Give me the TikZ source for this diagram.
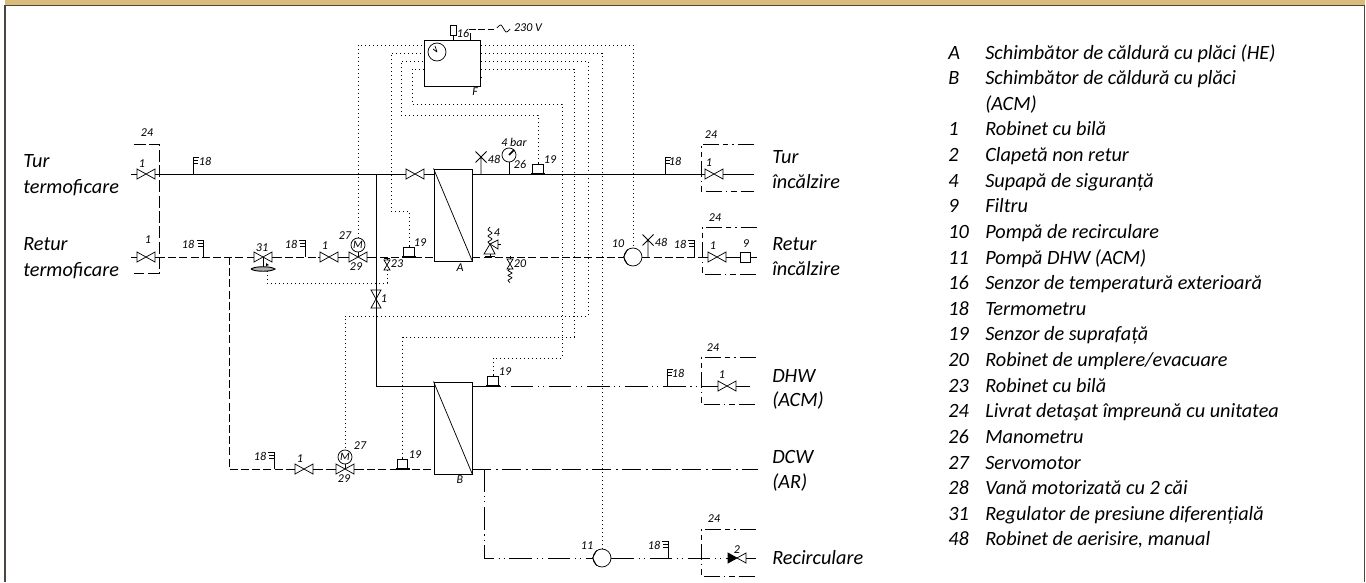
\documentclass[tikz,border=0pt]{standalone}
\usepackage{fontspec}
\setmainfont{Carlito}
\usepackage{xcolor}
\usepackage{tikz}
\definecolor{bandtan}{HTML}{D9BB7A}
\definecolor{framedark}{HTML}{4A463C}

\begin{document}
\begin{tikzpicture}[
    x=0.75pt, y=-0.75pt,
    sym/.style={draw, line width=0.55pt, fill=white},
    lin/.style={draw, line width=0.55pt},
    tag/.style={font=\fontsize{9}{10}\selectfont\itshape, inner sep=0pt},
    big/.style={font=\fontsize{15.2}{17}\selectfont\itshape, inner sep=0pt, anchor=base west},
    hexbox/.style={rectangle, draw, line width=0.7pt, fill=white, minimum width=28.5pt, minimum height=69pt},
    ctrlbox/.style={rectangle, draw, line width=0.7pt, fill=white, minimum width=42pt, minimum height=34.5pt},
    pumpsym/.style={circle, sym, minimum size=13.5pt, inner sep=0pt},
    motorsym/.style={circle, sym, minimum size=10.5pt, inner sep=0pt, font=\fontsize{8.5}{9}\selectfont\itshape},
    supply/.style={line width=0.65pt},
    retur/.style={line width=0.65pt, dash pattern=on 6pt off 2.4pt},
    hotline/.style={line width=0.65pt, dash pattern=on 17pt off 3.5pt on 0.8pt off 3pt on 0.8pt off 3.5pt},
    coldline/.style={line width=0.65pt, dash pattern=on 14pt off 3.5pt on 1.5pt off 3.5pt},
    wire/.style={line width=0.6pt, dash pattern=on 0.8pt off 2.2pt},
    kitdash/.style={line width=0.65pt, dash pattern=on 9pt off 2.5pt},
    kitdot/.style={line width=0.65pt, dash pattern=on 12pt off 3pt on 1.2pt off 3pt on 4pt off 3pt},
    valvesym/.pic={
      \path[sym] (-9,-5) -- (9,5) -- (9,-5) -- (-9,5) -- cycle;
      \draw[lin] (-11,0) -- (-9,0) (9,0) -- (11,0);
      \coordinate (-w) at (-11,0);
      \coordinate (-e) at (11,0);
      \coordinate (-c) at (0,0);
    },
    smallvalve/.pic={
      \path[sym] (-3,-5) -- (3,5) -- (-3,5) -- (3,-5) -- cycle;
      \draw[lin] (-3,-6.5) -- (3,-6.5) (0,-8) -- (0,-5);
      \coordinate (-s) at (0,5);
    },
    checksym/.pic={
      \path[sym, fill=black] (-9,-5) -- (0,0) -- (-9,5) -- cycle;
      \path[sym] (0,0) -- (9,-5) -- (9,5) -- cycle;
      \coordinate (-w) at (-9,0);
      \coordinate (-e) at (11,0);
      \draw[lin] (9,0) -- (11,0);
    },
    thermosym/.pic={
      \draw[lin] (0,0) -- (0,-17) -- (-6,-17) (0,-14) -- (-5,-14) (0,-11) -- (-5,-11);
    },
    ventsym/.pic={
      \draw[lin] (0,0) -- (0,-17) (-5.5,-22.5) -- (5.5,-11.5) (-5.5,-11.5) -- (5.5,-22.5);
    },
    sensorsym/.pic={
      \path[sym] (-5.25,0) -- (-5.25,-9.5) -- (5.25,-9.5) -- (5.25,0);
      \draw[line width=0.9pt] (-7,0) -- (7,0);
      \draw[lin] (0,-9.5) -- (0,-11);
      \coordinate (-top) at (0,-11);
    },
    springsym/.pic={
      \draw[lin] plot[smooth] coordinates {(0,0) (-2,-2) (2,-5) (-2,-8) (2,-11) (-2,-14) (0,-17)};
    }
]
  \useasboundingbox (0,0) rectangle (1366,582);

  % Frame
  \fill[bandtan] (5,0) rectangle (1364.5,5);
  \draw[framedark, line width=1pt] (5,582) -- (5,5.5) -- (1364.5,5.5) -- (1364.5,582);

  % Heat exchangers and controller
  \node[hexbox] (hxa) at (453,215) {};
  \node[hexbox] (hxb) at (453,428) {};
  \node[ctrlbox] (ctrl) at (452,63) {};
  \draw[lin] (hxa.north west) -- (hxa.south east);
  \draw[lin] (hxb.north west) -- (hxb.south east);
  \node[circle, sym, minimum size=13.5pt, inner sep=0pt] (clockf) at (437,52) {};
  \draw[lin] (clockf.center) -- (435,46) (clockf.center) -- (433,49);
  \foreach \n/\y in {1/45,2/53,3/61,4/69} {
    \coordinate (cl\n) at (424,\y);
    \coordinate (cr\n) at (481,\y);
  }
  \foreach \y in {53,61,69,77} \draw[lin] (480,\y) -- (482,\y);

  % Junctions and free ends
  \coordinate (turin) at (131,174);
  \coordinate (returin) at (131,257);
  \coordinate (teesup) at (376,174);
  \coordinate (teeret) at (229,257);
  \coordinate (turout) at (754,174);
  \coordinate (retout) at (757,257);
  \coordinate (dhwout) at (750,386);
  \coordinate (dcwout) at (758,469);
  \coordinate (dcwtee) at (484,469);
  \coordinate (recout) at (756,558);

  % Valves
  \pic (vturin) at (146,174) {valvesym};
  \pic (vretin) at (146,257) {valvesym};
  \pic (vreg) at (263,257) {valvesym};
  \pic (vball) at (329,257) {valvesym};
  \pic (vmota) at (358,257) {valvesym};
  \pic (vhx) at (415,174) {valvesym};
  \pic[rotate=90] (vbranch) at (376,299) {valvesym};
  \pic (vturout) at (714,174) {valvesym};
  \pic (vretout) at (717,257) {valvesym};
  \pic (vdhw) at (727,386) {valvesym};
  \pic (vlow) at (304,469) {valvesym};
  \pic (vmotb) at (345,469) {valvesym};
  \pic (vcheck) at (737,558) {checksym};
  \pic (vdrain) at (387,265) {smallvalve};
  \pic (vfill) at (510,264) {smallvalve};
  \pic[yscale=-0.8] at (510,269) {springsym};

  % Pumps, motors, filter, sensors
  \node[pumpsym] (pumpten) at (633,257) {};
  \node[pumpsym] (pumpele) at (602,558) {};
  \foreach \p in {pumpten,pumpele} \draw[lin] (\p.125) -- (\p.west) -- (\p.235);
  \node[motorsym] (motora) at (358,245) {M};
  \node[motorsym] (motorb) at (345,457) {M};
  \draw[lin] (motora) -- (vmota-c);
  \draw[lin] (motorb) -- (vmotb-c);
  \node[rectangle, sym, minimum size=7.5pt, inner sep=0pt] (filt) at (745,257) {};
  \pic (sena) at (409,257) {sensorsym};
  \pic (sent) at (538,174) {sensorsym};
  \pic (senb) at (493,386) {sensorsym};
  \pic (senc) at (402.5,469) {sensorsym};
  \node[rectangle, sym, minimum width=4.5pt, minimum height=7.5pt, inner sep=0pt] (outdoor) at (453,30) {};
  \draw[lin] (outdoor) -- (outdoor |- ctrl.north);

  % Thermometers
  \pic[xscale=-1] at (193,174) {thermosym};
  \pic at (203,257) {thermosym};
  \pic at (305,257) {thermosym};
  \pic[xscale=-1] at (665,174) {thermosym};
  \pic at (694,257) {thermosym};
  \pic[xscale=-1] at (667,386) {thermosym};
  \pic at (274,469) {thermosym};
  \pic at (668,558) {thermosym};

  % Vents, gauge, safety valve
  \pic at (481,174) {ventsym};
  \pic at (648,257) {ventsym};
  \coordinate (gaugetee) at (509,174);
  \node[circle, sym, minimum size=10.5pt, inner sep=0pt] (gauge) at (509,155) {};
  \draw[lin] (gauge) -- (gaugetee);
  \draw[line width=1.2pt] (gauge.center) -- (gauge.45);
  \path[sym] (490,244) -- (484,254) -- (495,254) -- cycle;
  \path[sym] (490,244) -- (498,240) -- (498,249) -- cycle;
  \draw[lin] (490,254) -- (490,257) (485,256) -- (495,256) (498,244.5) -- (501,244.5);
  \pic at (490,244) {springsym};

  % Differential regulator
  \draw[lin] (vreg-c) -- (263,269);
  \draw[line width=0.7pt, fill=gray!60] (251,269) .. controls (255,266) and (271,266) .. (275,269) .. controls (271,272) and (255,272) .. (251,269);
  \fill (266,263) -- (269,265) -- (266,266) -- cycle;
  \coordinate (regtap) at (267,271);

  % Supply pipe
  \draw[supply] (turin) -- (vturin-w);
  \draw[supply] (vturin-e) -- (vhx-w);
  \draw[supply] (vhx-e) -- (vhx-e -| hxa.west);
  \draw[supply] (hxa.east |- vhx-e) -- (vturout-w);
  \draw[supply] (vturout-e) -- (turout);
  \draw[supply] (teesup) -- (vbranch-w);
  \draw[supply] (vbranch-e) |- (hxb.west |- dhwout);

  % Return pipe
  \draw[retur] (returin) -- (vretin-w);
  \draw[retur] (vretin-e) -- (vreg-w);
  \draw[retur] (vreg-e) -- (vball-w);
  \draw[retur] (vball-e) -- (vmota-w);
  \draw[retur] (vmota-e) -- (vmota-e -| hxa.west);
  \draw[retur] (hxa.east |- vmota-e) -- (pumpten.west);
  \draw[retur] (pumpten.east) -- (vretout-w);
  \draw[supply] (vretout-e) -- (filt.west);
  \draw[supply] (filt.east) -- (retout);
  \draw[retur] (teeret) |- (vlow-w);
  \draw[retur] (vlow-e) -- (vmotb-w);
  \draw[retur] (vmotb-e) -- (vmotb-e -| hxb.west);

  % Hot and cold water
  \draw[hotline] (hxb.east |- dhwout) -- (vdhw-w);
  \draw[supply] (vdhw-e) -- (dhwout);
  \draw[coldline] (hxb.east |- dcwout) -- (dcwout);
  \draw[hotline] (dcwtee) |- (pumpele.west);
  \draw[hotline] (pumpele.east) -- (vcheck-w);
  \draw[supply] (vcheck-e) -- (recout);

  % Control wiring
  \draw[wire] (motora.north) |- (cl1);
  \draw[wire] (sena-top) |- (391,211) |- (cl2);
  \draw[wire] (sent-top) |- (401,115) |- (cl3);
  \draw[wire] (senb-top) |- (562,358) |- (412,104) |- (cl4);
  \draw[wire] (cr1) -| (pumpten.north);
  \draw[wire] (cr2) -| (pumpele.north);
  \draw[wire] (cr3) -| (588,316) -| (motorb.north);
  \draw[wire] (cr4) -| (574,337) -| (senc-top);
  \draw[wire] (regtap) |- (387,283) -- (vdrain-s);

  % Mains supply
  \coordinate (mains) at (494,29);
  \draw[lin] (470,33) -- (470,40);
  \draw[line width=0.7pt, dash pattern=on 5pt off 2pt] (469,29) -- (mains);
  \draw[lin] plot[smooth] coordinates {(497,28) (501,25) (506,32) (510,29)};

  % Delivered loose
  \draw[kitdash] (134,144) -- (159,144) -- (159,273) -- (134,273);
  \draw[kitdot] (754,144) -- (701,144) -- (701,191) -- (754,191);
  \draw[kitdot] (757,227) -- (702,227) -- (702,274) -- (757,274);
  \draw[kitdot] (756,357) -- (701,357) -- (701,404) -- (756,404);
  \draw[kitdot] (756,529) -- (701,529) -- (701,576) -- (756,576);

  % Small labels
  \foreach \t/\x/\y [count=\i] in {
    24/147/133, 1/142/164, 18/205/161, 1/148/240, 18/188/244, 31/262/248, 18/291/244,
    1/325/246, 27/345/236, 29/356/267, 23/397/264, 1/384/299, 19/420/243, A/460/268,
    4/497/233, 20/520/264, 16/463/33, F/475/92, 4 bar/514/142, 48/494/159, 26/520/164,
    19/550/160, 230 V/528/28, 18/675/161, 24/711/135, 1/709/163, 10/618/244, 48/661/242,
    18/680/244, 24/715/218, 1/713/246, 9/746/244, 19/505/372, 18/678/373, 24/713/348,
    1/722/375, 18/260/456, 1/300/459, 27/360/446, 29/344/479, 19/415/455, B/460/480,
    11/587/546, 18/654/545, 24/714/519, 2/737/550
  } \node[tag] (tag\i) at (\x,\y) {\t};

  % Pipe names
  \node[big] (namea) at (23,167) {Tur};
  \node[big] (nameb) at (23,193) {termoficare};
  \node[big] (namec) at (23,250) {Retur};
  \node[big] (named) at (23,276) {termoficare};
  \node[big] (namee) at (772,163) {Tur};
  \node[big] (namef) at (772,188) {încălzire};
  \node[big] (nameg) at (772,250) {Retur};
  \node[big] (nameh) at (772,275) {încălzire};
  \node[big] (namei) at (772,382) {DHW};
  \node[big] (namej) at (772,406) {(ACM)};
  \node[big] (namek) at (772,463) {DCW};
  \node[big] (namel) at (772,488) {(AR)};
  \node[big] (namem) at (772,564) {Recirculare};

  % Legend
  \foreach \k/\t [count=\i from 0] in {
    A/Schimbător de căldură cu plăci (HE), B/Schimbător de căldură cu plăci, /(ACM),
    1/Robinet cu bilă, 2/Clapetă non retur, 4/Supapă de siguranță, 9/Filtru,
    10/Pompă de recirculare, 11/Pompă DHW (ACM), 16/Senzor de temperatură exterioară,
    18/Termometru, 19/Senzor de suprafață, 20/{Robinet de umplere/evacuare}, 23/Robinet cu bilă,
    24/Livrat detaşat împreună cu unitatea, 26/Manometru, 27/Servomotor,
    28/Vană motorizată cu 2 căi, 31/Regulator de presiune diferențială,
    48/{Robinet de aerisire, manual}
  } {
    \node[big] (key\i) at (948,59+25.63*\i) {\k};
    \node[big] (desc\i) at (985,59+25.63*\i) {\t};
  }
\end{tikzpicture}
\end{document}
